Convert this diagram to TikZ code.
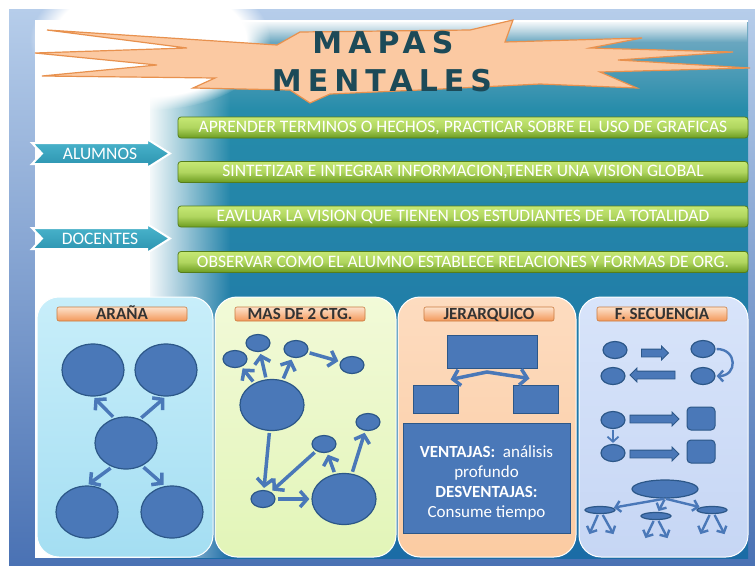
\documentclass[tikz,border=0pt]{standalone}
\usepackage{fontspec}
\setmainfont{Carlito}
\newfontfamily\titlefont[LetterSpace=20]{DejaVu Sans}
\usetikzlibrary{shapes.geometric,shapes.arrows,arrows.meta,fadings}
\definecolor{frametop}{HTML}{B6CDEA}
\definecolor{framebot}{HTML}{4A72B4}
\definecolor{skytop}{HTML}{7CAEC6}
\definecolor{seatop}{HTML}{268CAA}
\definecolor{seabot}{HTML}{1B6CA6}
\definecolor{starfill}{HTML}{FBC9A2}
\definecolor{starline}{HTML}{E8914E}
\definecolor{titleink}{HTML}{1C4A58}
\definecolor{bartop}{HTML}{C6E874}
\definecolor{barbot}{HTML}{6C9C20}
\definecolor{barline}{HTML}{557D1A}
\definecolor{chevtop}{HTML}{4CB6CE}
\definecolor{chevbot}{HTML}{2A92AE}
\definecolor{tagtop}{HTML}{FDE2CB}
\definecolor{tagbot}{HTML}{F3985A}
\definecolor{tagline}{HTML}{C97A3E}
\definecolor{nodeblue}{HTML}{4A78B8}
\definecolor{nodeline}{HTML}{2C5788}
\def\chevron{-- ++(115,0) -- ++(0,-4) -- ++(23,14.5) -- ++(-23,14.5) -- ++(0,-4) -- ++(-115,0) -- ++(10,-10.5) -- cycle}
\tikzset{
  bar/.style={draw=barline, line width=0.8pt, top color=bartop, bottom color=barbot, middle color=bartop!75!barbot,
    rounded corners=3pt, minimum width=570pt, minimum height=21pt, inner sep=0pt, text=white, font=\fontsize{17.5}{19}\selectfont},
  chev/.style={draw=white, line width=2pt, top color=chevtop, bottom color=chevbot},
  chevtext/.style={text=white, font=\fontsize{17.5}{19}\selectfont},
  ttl/.style={text=titleink, font=\titlefont\bfseries\fontsize{30}{32}\selectfont},
  panel/.style={draw=white, line width=1pt, rounded corners=22pt},
  tag/.style={draw=tagline, line width=0.6pt, top color=tagtop, bottom color=tagbot, rounded corners=2pt,
    minimum width=130pt, minimum height=14pt, inner sep=0pt, text height=11pt, text depth=1pt,
    text=black!80, font=\bfseries\fontsize{17}{18}\selectfont},
  bubble/.style={ellipse, fill=nodeblue, draw=nodeline, line width=1.2pt, inner sep=0pt},
  spider/.style={bubble, minimum width=62pt, minimum height=52pt},
  blob/.style={bubble, minimum width=64pt, minimum height=51pt},
  pip/.style={bubble, minimum width=24pt, minimum height=17pt},
  flat/.style={bubble, minimum width=30pt, minimum height=7pt},
  box/.style={rectangle, fill=nodeblue, draw=nodeline, line width=1pt, inner sep=0pt},
  fat/.style={single arrow, fill=nodeblue, draw=nodeline, line width=0.8pt, inner xsep=0pt, inner ysep=3.5pt,
    single arrow head extend=3pt},
  arr/.style={draw=nodeblue, line width=3.5pt, -{Straight Barb[length=7pt,width=16pt]}, shorten <=2pt, shorten >=2pt},
  thin/.style={draw=nodeblue, line width=2.4pt, -{Straight Barb[length=5pt,width=11pt]}, shorten <=1pt, shorten >=1pt}
}
\begin{document}
\begin{tikzpicture}[x=1pt,y=-1pt]
\useasboundingbox (0,0) rectangle (755,565);
\fill[white] (0,0) rectangle (755,565);
\shade[top color=frametop, bottom color=framebot] (9,9) rectangle (755,565);
\fill[white] (35,20) rectangle (748,558);
\shade[top color=skytop, bottom color=seatop] (150,22) rectangle (748,110.5);
\shade[top color=seatop, bottom color=seabot] (150,110) rectangle (748,558);
\fill[white, path fading=east] (146,22) rectangle (230,558);
\fill[white, path fading=south] (150,20) rectangle (748,42);
\fill[white, path fading=circle with fuzzy edge 20 percent] (150,40) ellipse [x radius=120, y radius=70];

\filldraw[fill=starfill, draw=starline, line width=1.2pt] (47,30) -- (277,45) -- (300,32) -- (470,30) -- (513,20) -- (505,42)
  -- (642,38) -- (590,48) -- (733,52) -- (618,60) -- (750,68) -- (600,72) -- (637,88) -- (540,84) -- (420,90)
  -- (330,94) -- (310,103) -- (290,90) -- (193,88) -- (215,78) -- (42,76) -- (157,65) -- (35,53) -- (187,48) -- cycle;
\node[ttl] (mapas) at (383,43) {MAPAS};
\node[ttl] (mentales) at (382,81) {MENTALES};

\node[bar] (b1) at (463,127.5) {APRENDER TERMINOS O HECHOS, PRACTICAR SOBRE EL USO DE GRAFICAS};
\node[bar] (b2) at (463,172) {SINTETIZAR E INTEGRAR INFORMACION,TENER UNA VISION GLOBAL};
\node[bar] (b3) at (463,216.5) {EAVLUAR LA VISION QUE TIENEN LOS ESTUDIANTES DE LA TOTALIDAD};
\node[bar] (b4) at (463,262) {OBSERVAR COMO EL ALUMNO ESTABLECE RELACIONES Y FORMAS DE ORG.};

\filldraw[chev] (32,143) \chevron;
\node[chevtext] (alumnos) at (100,153.5) {ALUMNOS};
\filldraw[chev] (32,228) \chevron;
\node[chevtext] (docentes) at (100,238.5) {DOCENTES};

\draw[panel, top color={rgb,255:red,200;green,238;blue,250}, bottom color={rgb,255:red,164;green,222;blue,242}] (37,297) rectangle (213,557);
\draw[panel, top color={rgb,255:red,242;green,250;blue,216}, bottom color={rgb,255:red,226;green,245;blue,184}] (215,297) rectangle (396,557);
\draw[panel, top color={rgb,255:red,253;green,220;blue,192}, bottom color={rgb,255:red,251;green,203;blue,162}] (398,297) rectangle (576,557);
\draw[panel, top color={rgb,255:red,216;green,228;blue,250}, bottom color={rgb,255:red,198;green,214;blue,244}] (579,297) rectangle (748,557);

\node[tag] (arana) at (122,314) {ARAÑA};
\node[tag] (masde) at (300,314) {MAS DE 2 CTG.};
\node[tag] (jerar) at (489,314) {JERARQUICO};
\node[tag] (fsec) at (662,314) {F. SECUENCIA};

\node[spider] (tl) at (93,370) {};
\node[spider] (tr) at (166,370) {};
\node[spider] (hub) at (126,443) {};
\node[spider] (bl) at (87,512) {};
\node[spider] (br) at (172,512) {};
\draw[arr] (hub.115) -- (tl.-90);
\draw[arr] (hub.60) -- (tr.-90);
\draw[arr] (hub.-120) -- (bl.90);
\draw[arr] (hub.-55) -- (br.105);

\node[blob] (big1) at (272,405) {};
\node[pip] (p1) at (235,359) {};
\node[pip] (p2) at (258,343) {};
\node[pip] (p3) at (296,349) {};
\node[pip] (p4) at (352,365) {};
\node[pip] (q1) at (263,499) {};
\node[blob] (big2) at (344,499) {};
\node[pip] (q2) at (324,444) {};
\node[pip] (q3) at (368,422) {};
\draw[arr] (big1) -- (p1);
\draw[arr] (big1) -- (p2);
\draw[arr] (big1) -- (p3);
\draw[arr] (p3) -- (p4);
\draw[arr] (big1) -- (q1);
\draw[arr] (q2) -- (q1);
\draw[arr] (q1) -- (big2);
\draw[arr] (big2) -- (q2);
\draw[arr] (big2) -- (q3);

\node[box, minimum width=90pt, minimum height=33pt] (top) at (492,351.5) {};
\node[box, minimum width=45pt, minimum height=28pt] (left) at (435.5,399) {};
\node[box, minimum width=45pt, minimum height=28pt] (right) at (535.5,399) {};
\coordinate (peak) at (487,372);
\draw[arr, {Straight Barb[length=7pt,width=16pt]}-{Straight Barb[length=7pt,width=16pt]}, shorten <=0pt, shorten >=0pt]
  ([xshift=15pt,yshift=5pt]left.north) -- (peak) -- ([xshift=-6pt,yshift=6pt]right.north);
\node[box, minimum width=167pt, minimum height=110pt, text=white, align=center, font=\fontsize{17}{20}\selectfont] (info) at (486.5,478)
  {\rule{0pt}{22pt}\textbf{VENTAJAS:}\ \ análisis\\profundo\\\textbf{DESVENTAJAS:}\\Consume tiempo};

\node[pip] (r1a) at (615,350) {};
\node[fat, minimum height=27pt] (f1) at (653,353) {};
\node[pip] (r1b) at (703,349) {};
\node[pip] (r2a) at (613,376) {};
\node[fat, minimum height=45pt, shape border rotate=180] (f2) at (654.5,375) {};
\node[pip] (r2b) at (703,376) {};
\draw[thin] (r1b.east) .. controls +(22,0) and +(22,0) .. (r2b.east);
\node[pip] (r3a) at (613,420) {};
\node[fat, minimum height=49pt] (f3) at (652.5,419) {};
\node[box, rounded corners=4pt, minimum width=28pt, minimum height=23pt] (sq1) at (701,418.5) {};
\node[pip] (r4a) at (613,453) {};
\node[fat, minimum height=49pt] (f4) at (652.5,454) {};
\node[box, rounded corners=4pt, minimum width=28pt, minimum height=23pt] (sq2) at (701,451.5) {};
\draw[thin, line width=1.8pt] (r3a) -- (r4a);

\node[bubble, minimum width=66pt, minimum height=18pt] (oval) at (665,489) {};
\node[flat] (s1) at (600,510) {};
\node[flat] (s2) at (656,516) {};
\node[flat] (s3) at (712,510) {};
\draw[thin] (oval.south) -- (s1);
\draw[thin] (oval.south) -- (s2);
\draw[thin] (oval.south) -- (s3);
\coordinate (w1) at (589,535);
\coordinate (w2) at (614,535);
\coordinate (w3) at (645,539);
\coordinate (w4) at (668,539);
\coordinate (w5) at (700,535);
\coordinate (w6) at (725,535);
\draw[thin] (s1) -- (w1);
\draw[thin] (s1) -- (w2);
\draw[thin] (s2) -- (w3);
\draw[thin] (s2) -- (w4);
\draw[thin] (s3) -- (w5);
\draw[thin] (s3) -- (w6);
\end{tikzpicture}
\end{document}
